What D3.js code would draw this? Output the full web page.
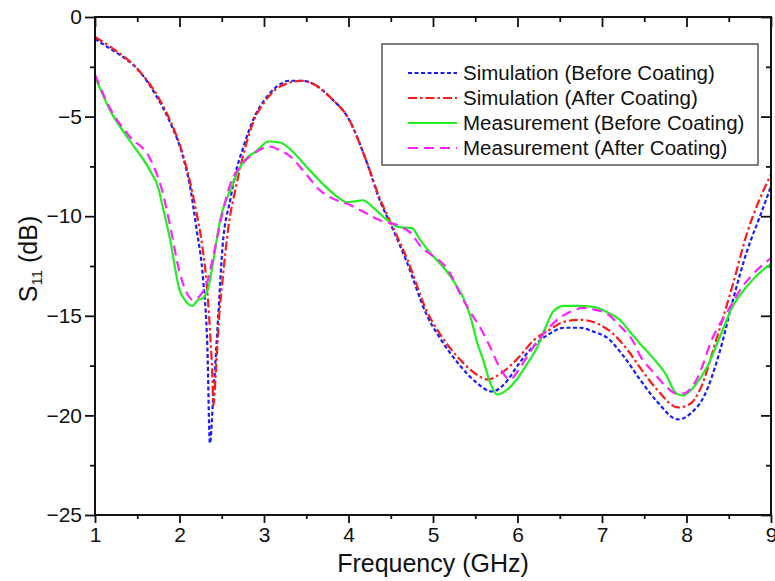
<!DOCTYPE html>
<html>
<head>
<meta charset="utf-8">
<script src="https://cdn.jsdelivr.net/npm/d3@7"></script>
<style>
  body { margin: 0; background: #fff; }
  text { font-family: "Liberation Sans", Arial, sans-serif; fill: #111; }
</style>
</head>
<body>
<div id="chart"></div>
<script>
const width = 775,
    height = 581;
const margin = { top: 17, right: 4, bottom: 66, left: 95 };

// frequency (GHz) and S11 (dB)
const simBeforeF = [1.0, 1.2, 1.33, 1.5, 1.73, 1.89, 2.04, 2.12, 2.2, 2.28, 2.33, 2.36, 2.40, 2.46, 2.51, 2.6, 2.66, 2.75, 2.9, 3.0, 3.15, 3.3, 3.45, 3.6, 3.8, 4.0, 4.2, 4.37, 4.53, 4.69, 4.93, 5.08, 5.32, 5.5, 5.7, 5.85, 6.0, 6.15, 6.38, 6.55, 6.74, 6.9, 7.06, 7.25, 7.45, 7.65, 7.9, 8.05, 8.2, 8.4, 8.55, 8.72, 8.87, 9.0];
const simBeforeS = [-1.1, -1.65, -2.0, -2.6, -4.0, -5.3, -7.0, -8.4, -10.6, -13.2, -16.6, -21.4, -19.0, -14.9, -11.5, -9.2, -7.9, -6.6, -4.9, -4.2, -3.5, -3.2, -3.2, -3.4, -4.1, -5.1, -7.1, -9.2, -10.7, -12.3, -15.0, -16.1, -17.5, -18.3, -18.8, -18.4, -17.5, -16.7, -15.9, -15.6, -15.6, -15.8, -16.1, -17.0, -18.2, -19.3, -20.2, -19.9, -19.1, -16.7, -14.2, -11.7, -10.0, -8.5];

const simAfterF = [1.0, 1.2, 1.5, 1.73, 1.89, 2.04, 2.12, 2.2, 2.27, 2.32, 2.36, 2.39, 2.40, 2.43, 2.47, 2.51, 2.58, 2.66, 2.75, 2.9, 3.0, 3.15, 3.3, 3.45, 3.6, 3.8, 4.0, 4.2, 4.37, 4.53, 4.69, 4.93, 5.08, 5.32, 5.5, 5.65, 5.8, 5.99, 6.2, 6.38, 6.55, 6.74, 6.95, 7.13, 7.3, 7.45, 7.65, 7.9, 8.05, 8.16, 8.36, 8.55, 8.72, 8.85, 9.0];
const simAfterS = [-1.0, -1.55, -2.6, -3.9, -5.2, -6.9, -8.2, -9.8, -11.5, -13.3, -15.7, -18.2, -19.5, -17.8, -15.0, -13.2, -10.5, -8.7, -7.0, -5.0, -4.3, -3.6, -3.3, -3.2, -3.4, -4.1, -5.1, -7.1, -9.1, -10.6, -12.1, -14.8, -15.9, -17.2, -17.9, -18.2, -17.9, -17.2, -16.2, -15.7, -15.3, -15.2, -15.4, -15.9, -16.7, -17.6, -18.7, -19.6, -19.4, -18.7, -16.1, -13.4, -10.8, -9.3, -7.9];

const measBeforeF = [1.0, 1.18, 1.41, 1.65, 1.75, 1.8, 1.89, 2.0, 2.08, 2.15, 2.22, 2.28, 2.34, 2.41, 2.48, 2.6, 2.75, 2.92, 3.05, 3.19, 3.35, 3.5, 3.7, 3.86, 3.98, 4.08, 4.17, 4.3, 4.46, 4.6, 4.75, 4.85, 5.0, 5.15, 5.28, 5.36, 5.44, 5.52, 5.6, 5.68, 5.76, 5.88, 5.99, 6.1, 6.23, 6.33, 6.42, 6.55, 6.7, 6.9, 7.05, 7.21, 7.35, 7.45, 7.6, 7.75, 7.88, 7.96, 8.1, 8.24, 8.4, 8.55, 8.7, 8.85, 9.0];
const measBeforeS = [-3.0, -4.7, -6.2, -7.7, -8.6, -9.5, -11.2, -13.7, -14.3, -14.5, -14.2, -14.1, -13.6, -12.0, -10.2, -8.7, -7.3, -6.7, -6.25, -6.3, -6.8, -7.5, -8.4, -9.0, -9.3, -9.25, -9.2, -9.6, -10.2, -10.55, -10.6, -11.2, -12.0, -12.7, -13.5, -14.1, -15.0, -16.3, -17.3, -18.4, -18.95, -18.7, -18.2, -17.5, -16.6, -15.6, -14.8, -14.5, -14.5, -14.55, -14.8, -15.2, -15.9, -16.4, -17.1, -17.9, -18.9, -19.0, -18.5, -17.6, -16.0, -14.5, -13.6, -12.9, -12.4];

const measAfterF = [1.0, 1.18, 1.41, 1.65, 1.8, 1.89, 2.0, 2.08, 2.16, 2.24, 2.32, 2.4, 2.51, 2.6, 2.72, 2.9, 3.07, 3.19, 3.31, 3.5, 3.66, 3.86, 4.0, 4.14, 4.37, 4.61, 4.75, 4.85, 5.0, 5.12, 5.22, 5.32, 5.44, 5.56, 5.68, 5.79, 5.91, 6.03, 6.15, 6.27, 6.5, 6.65, 6.78, 6.92, 7.06, 7.21, 7.37, 7.45, 7.6, 7.77, 7.88, 7.96, 8.12, 8.31, 8.51, 8.65, 8.79, 9.0];
const measAfterS = [-2.9, -4.6, -6.0, -7.1, -8.8, -10.5, -12.8, -13.8, -14.2, -14.0, -13.4, -12.0, -9.8, -8.4, -7.5, -6.8, -6.5, -6.7, -7.0, -7.9, -8.7, -9.2, -9.4, -9.7, -10.2, -10.5, -10.9, -11.5, -12.0, -12.4, -13.0, -13.9, -14.8, -15.6, -16.6, -17.6, -18.2, -17.6, -16.8, -16.1, -15.1, -14.75, -14.6, -14.7, -14.9, -15.5, -16.3, -17.0, -17.8, -18.6, -18.9, -18.9, -18.2, -16.1, -14.6, -13.6, -12.9, -12.1];

const seriesNames = ["Simulation (Before Coating)", "Simulation (After Coating)", "Measurement (Before Coating)", "Measurement (After Coating)"];
const seriesColors = ["#1a1aff", "#ff1a1a", "#22ee22", "#ff22ff"];
const seriesDash = ["4,2.5", "9,3,2.5,3", null, "10,6"];

const xTicks = [1, 2, 3, 4, 5, 6, 7, 8, 9];
const yTicks = [0, -5, -10, -15, -20, -25];

const series = [
    { f: simBeforeF, s: simBeforeS },
    { f: simAfterF, s: simAfterS },
    { f: measBeforeF, s: measBeforeS },
    { f: measAfterF, s: measAfterS }
];

const innerW = width - margin.left - margin.right,
    innerH = height - margin.top - margin.bottom;

const svg = d3.select("#chart")
    .append("svg")
    .attr("width", width)
    .attr("height", height);

const g = svg.append("g")
    .attr("transform", `translate(${margin.left}, ${margin.top})`);

const x = d3.scaleLinear().domain([1, 9]).range([0, innerW]);
const y = d3.scaleLinear().domain([-25, 0]).range([innerH, 0]);

g.append("clipPath").attr("id", "clip")
    .append("rect").attr("width", innerW).attr("height", innerH);

// minor ticks first, majors drawn on top
const xMinor = d3.range(1.5, 9, 1);
const yMinor = d3.range(-22.5, 0, 5);

function styleAxis(sel) {
    sel.selectAll("path").remove();
    sel.selectAll("line").attr("stroke", "#111").attr("stroke-width", 1.8);
    sel.selectAll("text").style("font-size", "21px").attr("fill", "#111");
}

g.append("g").attr("transform", `translate(0, ${innerH})`)
    .call(d3.axisBottom(x).tickValues(xMinor).tickSize(4).tickFormat(""))
    .call(styleAxis);
g.append("g").attr("transform", `translate(0, ${innerH})`)
    .call(d3.axisBottom(x).tickValues(xTicks).tickSize(8).tickPadding(4).tickFormat(d3.format("d")))
    .call(styleAxis);

g.append("g")
    .call(d3.axisTop(x).tickValues(xMinor).tickSize(-5).tickFormat(""))
    .call(styleAxis);
g.append("g")
    .call(d3.axisTop(x).tickValues(xTicks).tickSize(-10).tickFormat(""))
    .call(styleAxis);

g.append("g")
    .call(d3.axisLeft(y).tickValues(yMinor).tickSize(5).tickFormat(""))
    .call(styleAxis);
g.append("g")
    .call(d3.axisLeft(y).tickValues(yTicks).tickSize(10).tickPadding(3).tickFormat(d3.format("d")))
    .call(styleAxis);

g.append("g").attr("transform", `translate(${innerW}, 0)`)
    .call(d3.axisRight(y).tickValues(yMinor).tickSize(-5).tickFormat(""))
    .call(styleAxis);
g.append("g").attr("transform", `translate(${innerW}, 0)`)
    .call(d3.axisRight(y).tickValues(yTicks).tickSize(-10).tickFormat(""))
    .call(styleAxis);

// the curves
const line = d3.line()
    .x(d => x(d[0]))
    .y(d => y(d[1]))
    .curve(d3.curveMonotoneX);

const curves = g.append("g").attr("clip-path", "url(#clip)");
series.forEach((sr, i) => {
    const pts = sr.f.map((f, k) => [f, sr.s[k]]);
    curves.append("path")
        .datum(pts)
        .attr("d", line)
        .attr("fill", "none")
        .attr("stroke", seriesColors[i])
        .attr("stroke-width", 2.2)
        .attr("stroke-dasharray", seriesDash[i]);
});

// frame
g.append("rect")
    .attr("width", innerW)
    .attr("height", innerH)
    .attr("fill", "none")
    .attr("stroke", "#111")
    .attr("stroke-width", 2);

// legend
const legend = svg.append("g").attr("transform", "translate(382, 44)");
legend.append("rect")
    .attr("width", 376)
    .attr("height", 121)
    .attr("fill", "#fff")
    .attr("stroke", "#555")
    .attr("stroke-width", 1.5);

seriesNames.forEach((name, i) => {
    const row = legend.append("g").attr("transform", `translate(0, ${29 + i * 25})`);
    row.append("line")
        .attr("x1", 26).attr("x2", 75)
        .attr("stroke", seriesColors[i])
        .attr("stroke-width", 2.2)
        .attr("stroke-dasharray", seriesDash[i]);
    row.append("text")
        .attr("x", 81)
        .attr("dy", "0.35em")
        .style("font-size", "20.5px")
        .text(name);
});

// axis titles
svg.append("text")
    .attr("x", margin.left + innerW / 2)
    .attr("y", 572)
    .attr("text-anchor", "middle")
    .style("font-size", "25px")
    .text("Frequency (GHz)");

const yTitle = svg.append("text")
    .attr("transform", "translate(37, 259) rotate(-90)")
    .attr("text-anchor", "middle")
    .style("font-size", "25px");
yTitle.append("tspan").text("S");
yTitle.append("tspan").attr("dy", 5).style("font-size", "15px").text("11");
yTitle.append("tspan").attr("dy", -5).text(" (dB)");
</script>
</body>
</html>
